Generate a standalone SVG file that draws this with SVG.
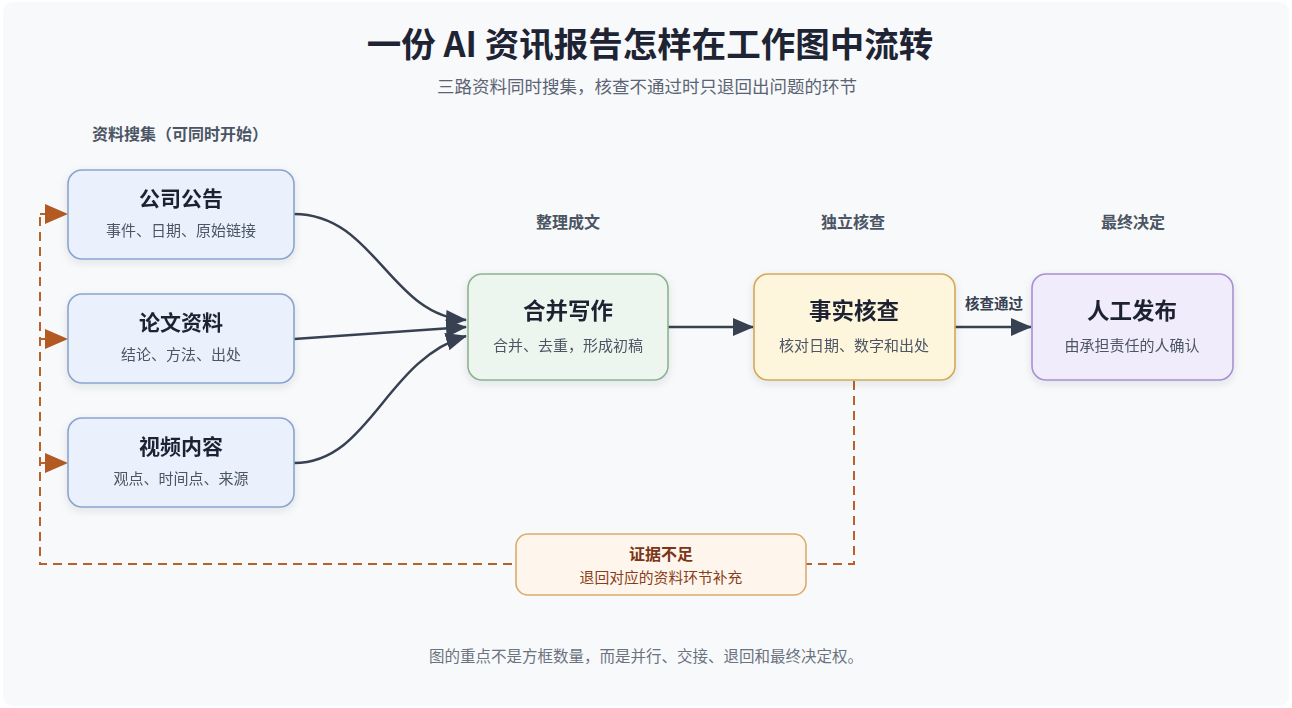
<svg xmlns="http://www.w3.org/2000/svg" width="1292" height="708" viewBox="0 0 1292 708">
<defs>
<style>
.t{font-family:"Noto Sans CJK SC","Noto Sans",sans-serif}
.title{font-size:34.5px;font-weight:700;fill:#1e2433}
.sub{font-size:17.5px;fill:#5b6474}
.sec{font-size:16px;font-weight:700;fill:#4b5563}
.nt{font-size:21px;font-weight:700;fill:#1f2433}
.nt2{font-size:22.5px;font-weight:700;fill:#1f2433}
.ns{font-size:15px;fill:#4b5563}
.foot{font-size:15.5px;fill:#6b7280}
.blue{fill:#eaf1fd;stroke:#8aa4cf;stroke-width:1.6}
.green{fill:#edf6ee;stroke:#8db391;stroke-width:1.6}
.yellow{fill:#fdf5dc;stroke:#d3a958;stroke-width:1.6}
.purple{fill:#f1ecfc;stroke:#a98fd3;stroke-width:1.6}
.orange{fill:#fef6ec;stroke:#dcaa6c;stroke-width:1.6}
.flow{fill:none;stroke:#374151;stroke-width:2.5}
.back{fill:none;stroke:#b8612a;stroke-width:2;stroke-dasharray:9 6}
</style>
<marker id="ah" markerUnits="userSpaceOnUse" markerWidth="22" markerHeight="20" refX="20" refY="10" orient="auto"><path d="M0,1 L21,10 L0,19 Z" fill="#374151"/></marker>
<marker id="bh" markerUnits="userSpaceOnUse" markerWidth="24" markerHeight="22" refX="22" refY="11" orient="auto"><path d="M0,1 L23,11 L0,21 Z" fill="#b35a22"/></marker>
<filter id="sh" x="-10%" y="-10%" width="120%" height="130%"><feDropShadow dx="0" dy="3" stdDeviation="4" flood-color="#1e293b" flood-opacity="0.10"/></filter>
</defs>
<rect x="0" y="0" width="1292" height="708" fill="#ffffff"/>
<rect x="3" y="2" width="1286" height="704" rx="10" fill="#f8f9fb"/>
<g id="header">
<text class="t title" x="650" y="57" text-anchor="middle">一份 AI 资讯报告怎样在工作图中流转</text>
<text class="t sub" x="647" y="93" text-anchor="middle">三路资料同时搜集，核查不通过时只退回出问题的环节</text>
<text class="t sec" x="180" y="140" text-anchor="middle">资料搜集（可同时开始）</text>
<text class="t sec" x="568" y="228" text-anchor="middle">整理成文</text>
<text class="t sec" x="853" y="228" text-anchor="middle">独立核查</text>
<text class="t sec" x="1133" y="228" text-anchor="middle">最终决定</text>
</g>
<g id="connectors">
<path class="flow" d="M294,214 C375,214 390,316 466,320" marker-end="url(#ah)"/>
<path class="flow" d="M294,339 L466,327" marker-end="url(#ah)"/>
<path class="flow" d="M294,463 C370,463 385,360 466,336" marker-end="url(#ah)"/>
<path class="flow" d="M668,327 L753,327" marker-end="url(#ah)"/>
<path class="flow" d="M955,327 L1031,327" marker-end="url(#ah)"/>
<text class="t" x="994" y="309" text-anchor="middle" font-size="14.5" font-weight="700" fill="#374151">核查通过</text>
<path class="back" d="M854,381 L854,564 L40,564 L40,214"/>
<path class="back" d="M40,214 L67,214" marker-end="url(#bh)"/>
<path class="back" d="M40,339 L67,339" marker-end="url(#bh)"/>
<path class="back" d="M40,463 L67,463" marker-end="url(#bh)"/>
</g>
<g id="n1" filter="url(#sh)"><rect class="blue" x="68" y="170" width="226" height="89" rx="14"/>
<text class="t nt" x="181" y="206" text-anchor="middle">公司公告</text>
<text class="t ns" x="181" y="236" text-anchor="middle">事件、日期、原始链接</text></g>
<g id="n2" filter="url(#sh)"><rect class="blue" x="68" y="294" width="226" height="89" rx="14"/>
<text class="t nt" x="181" y="330" text-anchor="middle">论文资料</text>
<text class="t ns" x="181" y="360" text-anchor="middle">结论、方法、出处</text></g>
<g id="n3" filter="url(#sh)"><rect class="blue" x="68" y="418" width="226" height="89" rx="14"/>
<text class="t nt" x="181" y="454" text-anchor="middle">视频内容</text>
<text class="t ns" x="181" y="484" text-anchor="middle">观点、时间点、来源</text></g>
<g id="n4" filter="url(#sh)"><rect class="green" x="468" y="274" width="200" height="106" rx="14"/>
<text class="t nt2" x="568" y="319" text-anchor="middle">合并写作</text>
<text class="t ns" x="568" y="351" text-anchor="middle" font-size="15.5">合并、去重，形成初稿</text></g>
<g id="n5" filter="url(#sh)"><rect class="yellow" x="754" y="274" width="201" height="106" rx="14"/>
<text class="t nt2" x="854" y="319" text-anchor="middle">事实核查</text>
<text class="t ns" x="854" y="351" text-anchor="middle" font-size="15.5">核对日期、数字和出处</text></g>
<g id="n6" filter="url(#sh)"><rect class="purple" x="1032" y="274" width="201" height="106" rx="14"/>
<text class="t nt2" x="1132" y="319" text-anchor="middle">人工发布</text>
<text class="t ns" x="1132" y="351" text-anchor="middle" font-size="15.5">由承担责任的人确认</text></g>
<g id="n7"><rect class="orange" x="516" y="534" width="290" height="61" rx="12"/>
<text class="t" x="661" y="560" text-anchor="middle" font-size="16" font-weight="700" fill="#7c3516">证据不足</text>
<text class="t" x="661" y="583" text-anchor="middle" font-size="14.8" fill="#8a3d1a">退回对应的资料环节补充</text></g>
<g id="footer"><text class="t foot" x="646" y="662" text-anchor="middle">图的重点不是方框数量，而是并行、交接、退回和最终决定权。</text></g>
</svg>
